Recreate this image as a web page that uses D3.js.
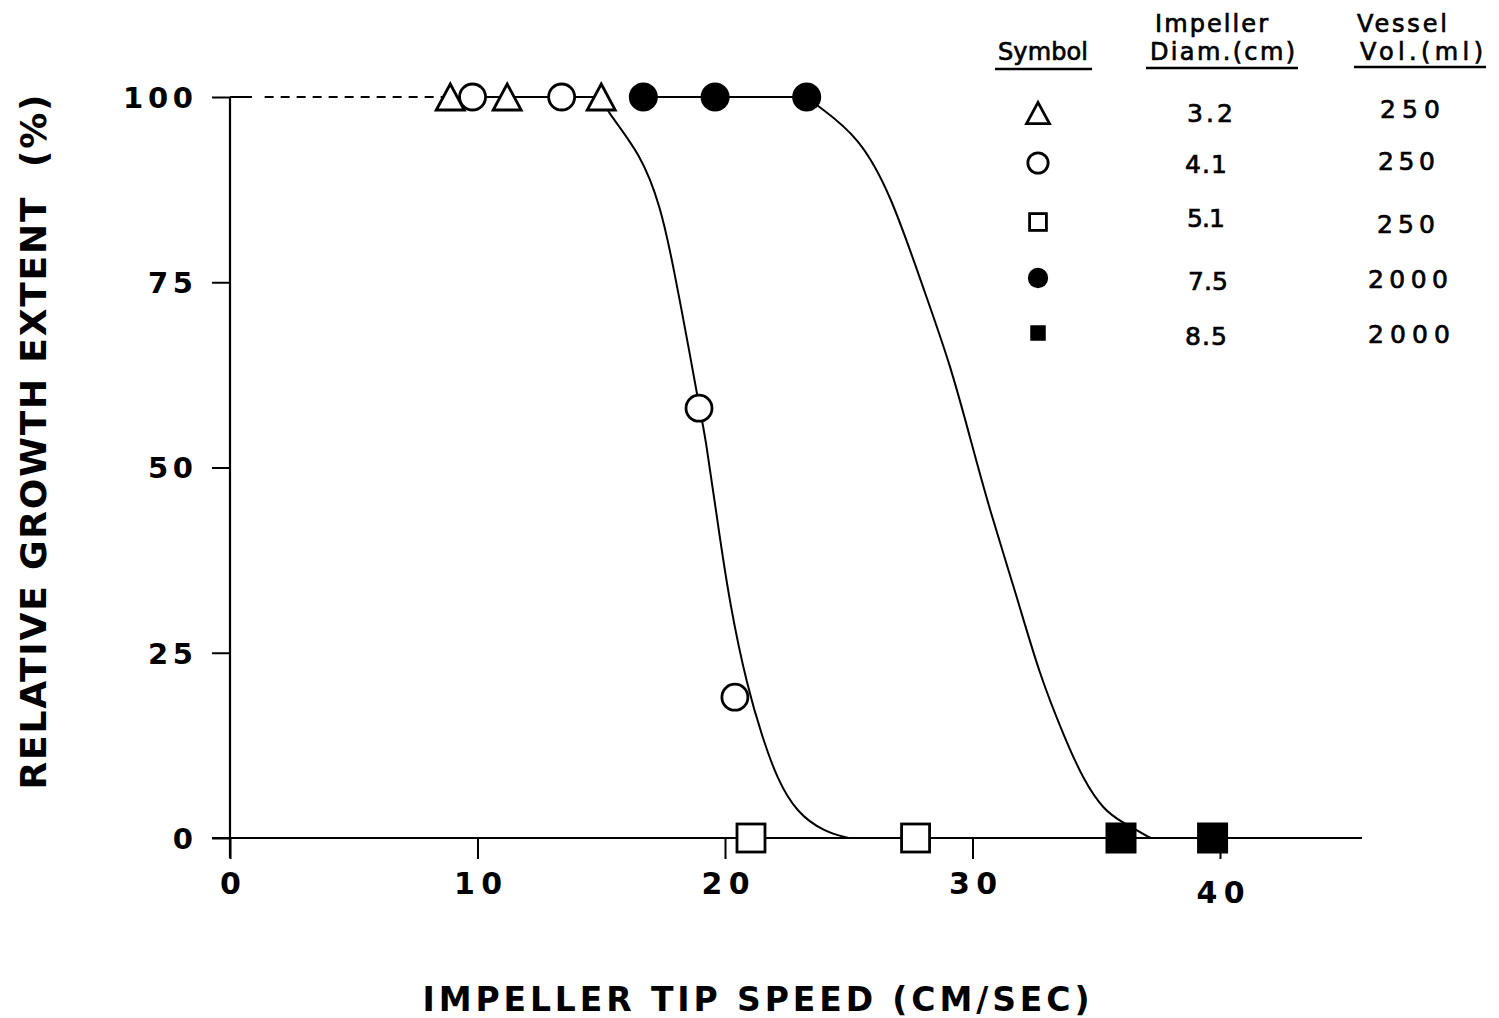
<!DOCTYPE html>
<html>
<head>
<meta charset="utf-8">
<script src="https://cdn.jsdelivr.net/npm/d3@7"></script>
<style>
  html, body { margin: 0; padding: 0; background: #fff; }
  svg { display: block; }
</style>
</head>
<body>
<svg id="chart" width="1499" height="1018"></svg>
<script>
// ---------------- data ----------------
const xTicks = [0, 10, 20, 30, 40];
const yTicks = [0, 25, 50, 75, 100];

// Triangle: impeller 3.2 cm, 250 ml
const triX = [8.9, 11.2, 15.0];
const triY = [100, 100, 100];
// Open circle: 4.1 cm, 250 ml
const openCircX = [9.8, 13.4, 18.95, 20.4];
const openCircY = [100, 100, 58, 19];
// Open square: 5.1 cm, 250 ml
const openSqX = [21.05, 27.7];
const openSqY = [0, 0];
// Filled circle: 7.5 cm, 2000 ml
const fillCircX = [16.7, 19.6, 23.3];
const fillCircY = [100, 100, 100];
// Filled square: 8.5 cm, 2000 ml
const fillSqX = [36.0, 39.7];
const fillSqY = [0, 0];

// fitted curves
const curve1X = [15.0, 15.2, 16.6, 17.4, 17.9, 18.6, 18.95, 19.2, 19.7, 20.2, 20.9, 21.5, 22.1, 22.9, 24.0, 25.0];
const curve1Y = [100, 98.2, 92.3, 85.2, 77.4, 65.0, 58.3, 54.4, 42.6, 31.4, 20.4, 13.7, 8.0, 3.4, 0.85, 0];
const curve2X = [23.3, 23.75, 25.4, 26.7, 28.0, 29.1, 30.0, 30.7, 31.8, 32.7, 33.7, 34.5, 35.3, 36.0, 37.2];
const curve2Y = [100, 98.8, 94.7, 86.9, 74.3, 64.0, 52.8, 44.2, 32.5, 22.1, 13.7, 7.7, 3.8, 2.2, 0];

// plateau lines at 100 %
const dashX = [1.4, 8.9];
const plateau1X = [8.9, 15.0];
const plateau2X = [16.7, 23.3];
const plateauY = 100;

// legend table
const legendSymbols = ["triangle", "circle", "square", "filledCircle", "filledSquare"];
const legendDiam = ["3.2", "4.1", "5.1", "7.5", "8.5"];
const legendVol = ["250", "250", "250", "2000", "2000"];

// ---------------- drawing ----------------
const svg = d3.select("#chart");
const x = d3.scaleLinear().domain([0, 40]).range([230, 1220]);
const y = d3.scaleLinear().domain([0, 100]).range([838, 97]);

const boldFont = "'DejaVu Sans', sans-serif";

// axes lines
svg.append("line").attr("x1", x(0)).attr("x2", x(0)).attr("y1", y(100)).attr("y2", y(0) + 20)
  .attr("stroke", "#000").attr("stroke-width", 2.2);
svg.append("line").attr("x1", x(0) - 18).attr("x2", 1362).attr("y1", y(0)).attr("y2", y(0))
  .attr("stroke", "#000").attr("stroke-width", 2.2);

// y axis ticks
const yAxis = d3.axisLeft(y).tickValues(yTicks).tickSize(18).tickPadding(19).tickFormat(d3.format("d"));
const gy = svg.append("g").attr("transform", `translate(${x(0)},0)`).call(yAxis);
gy.select(".domain").remove();
gy.selectAll(".tick line").attr("stroke", "#000").attr("stroke-width", 2);
gy.selectAll(".tick text")
  .attr("font-family", boldFont).attr("font-weight", "bold").attr("font-size", 29)
  .attr("fill", "#000").attr("dy", "0.36em")
  .each(function(d) {
    const s = String(d);
    if (s.length === 3) d3.select(this).attr("textLength", 70).attr("lengthAdjust", "spacing");
    else if (s.length === 2) d3.select(this).attr("textLength", 45).attr("lengthAdjust", "spacing");
  });
// extra right part of the 100 tick
svg.append("line").attr("x1", x(0)).attr("x2", x(0) + 22).attr("y1", y(100)).attr("y2", y(100))
  .attr("stroke", "#000").attr("stroke-width", 2);

// x axis ticks
const xAxis = d3.axisBottom(x).tickValues(xTicks).tickSize(21).tickPadding(14).tickFormat(d3.format("d"));
const gx = svg.append("g").attr("transform", `translate(0,${y(0)})`).call(xAxis);
gx.select(".domain").remove();
gx.selectAll(".tick line").attr("stroke", "#000").attr("stroke-width", 2);
gx.selectAll(".tick text")
  .attr("font-family", boldFont).attr("font-weight", "bold").attr("font-size", 30)
  .attr("fill", "#000")
  .each(function(d) {
    const s = String(d);
    if (s.length === 2) d3.select(this).attr("textLength", 48).attr("lengthAdjust", "spacing");
    if (d === 40) d3.select(this).attr("dy", "1.0em");
  });

// axis titles
svg.append("text").attr("x", 756).attr("y", 1011).attr("text-anchor", "middle")
  .attr("font-family", boldFont).attr("font-weight", "bold").attr("font-size", 33)
  .attr("textLength", 667).attr("lengthAdjust", "spacing")
  .text("IMPELLER TIP SPEED (CM/SEC)");
svg.append("text").attr("transform", "translate(46,442) rotate(-90)").attr("text-anchor", "middle")
  .attr("font-family", boldFont).attr("font-weight", "bold").attr("font-size", 36)
  .attr("textLength", 695).attr("lengthAdjust", "spacing")
  .text("RELATIVE GROWTH EXTENT\u00A0\u00A0(%)");

// lines
const line = d3.line().x(d => x(d[0])).y(d => y(d[1]));
svg.append("path").datum(dashX.map(v => [v, plateauY])).attr("d", line)
  .attr("fill", "none").attr("stroke", "#000").attr("stroke-width", 2).attr("stroke-dasharray", "9,7");
[plateau1X, plateau2X].forEach(px => {
  svg.append("path").datum(px.map(v => [v, plateauY])).attr("d", line)
    .attr("fill", "none").attr("stroke", "#000").attr("stroke-width", 2);
});
const smooth = d3.line().x(d => x(d[0])).y(d => y(d[1])).curve(d3.curveBasis);
[[curve1X, curve1Y], [curve2X, curve2Y]].forEach(([cx, cy]) => {
  svg.append("path").datum(cx.map((v, i) => [v, cy[i]])).attr("d", smooth)
    .attr("fill", "none").attr("stroke", "#000").attr("stroke-width", 2);
});

// markers
function drawMarker(g, type, cx, cy, s) {
  const sw = 2.8;
  if (type === "triangle") {
    const w = 28 * s, h = 26 * s;
    g.append("path").attr("d", `M${cx - w / 2},${cy + h / 2}L${cx},${cy - h / 2}L${cx + w / 2},${cy + h / 2}Z`)
      .attr("fill", "#fff").attr("stroke", "#000").attr("stroke-width", sw).attr("stroke-linejoin", "miter");
  } else if (type === "circle") {
    g.append("circle").attr("cx", cx).attr("cy", cy).attr("r", 13 * s)
      .attr("fill", "#fff").attr("stroke", "#000").attr("stroke-width", sw);
  } else if (type === "square") {
    const w = 28 * s;
    g.append("rect").attr("x", cx - w / 2).attr("y", cy - w / 2).attr("width", w).attr("height", w)
      .attr("fill", "#fff").attr("stroke", "#000").attr("stroke-width", sw);
  } else if (type === "filledCircle") {
    g.append("circle").attr("cx", cx).attr("cy", cy).attr("r", 14.5 * s).attr("fill", "#000");
  } else if (type === "filledSquare") {
    const w = 31 * s;
    g.append("rect").attr("x", cx - w / 2).attr("y", cy - w / 2).attr("width", w).attr("height", w).attr("fill", "#000");
  }
}
const mg = svg.append("g");
const series = [
  ["circle", openCircX, openCircY],
  ["triangle", triX, triY],
  ["square", openSqX, openSqY],
  ["filledCircle", fillCircX, fillCircY],
  ["filledSquare", fillSqX, fillSqY]
];
series.forEach(([type, xs, ys]) => {
  xs.forEach((v, i) => drawMarker(mg, type, x(v), y(ys[i]), 1));
});

// legend
const lg = svg.append("g");
const legFont = "'DejaVu Sans', sans-serif";
function ltext(txt, xx, yy, len, fs) {
  const t = lg.append("text").attr("x", xx).attr("y", yy).attr("font-family", legFont)
    .attr("font-size", fs || 24).attr("fill", "#000")
    .attr("stroke", "#000").attr("stroke-width", 0.7).text(txt);
  if (len) t.attr("textLength", len).attr("lengthAdjust", "spacing");
  return t;
}
ltext("Symbol", 998, 60, 90);
ltext("Impeller", 1155, 32, 113);
ltext("Diam.(cm)", 1150, 60, 145);
ltext("Vessel", 1357, 32, 90);
ltext("Vol.(ml)", 1360, 60, 123);
[[995, 1092, 69], [1146, 1298, 68], [1354, 1486, 67]].forEach(([a, b, yy]) => {
  lg.append("line").attr("x1", a).attr("x2", b).attr("y1", yy).attr("y2", yy)
    .attr("stroke", "#000").attr("stroke-width", 2.4);
});
const rowY = [113, 163, 222, 278, 333];
const symScale = [0.82, 0.78, 0.6, 0.7, 0.5];
const diamX = [1187, 1185, 1187, 1188, 1185];
const diamLen = [46, 42, 38, 40, 42];
const diamDy = [9, 10, 5, 12, 12];
const volX = [1380, 1378, 1377, 1368, 1368];
const volLen = [60, 57, 58, 80, 82];
const volDy = [5, 7, 11, 10, 10];
legendSymbols.forEach((sym, i) => {
  drawMarker(lg, sym, 1038, rowY[i], symScale[i]);
  ltext(legendDiam[i], diamX[i], rowY[i] + diamDy[i], diamLen[i], 25);
  ltext(legendVol[i], volX[i], rowY[i] + volDy[i], volLen[i], 25);
});
</script>
</body>
</html>
